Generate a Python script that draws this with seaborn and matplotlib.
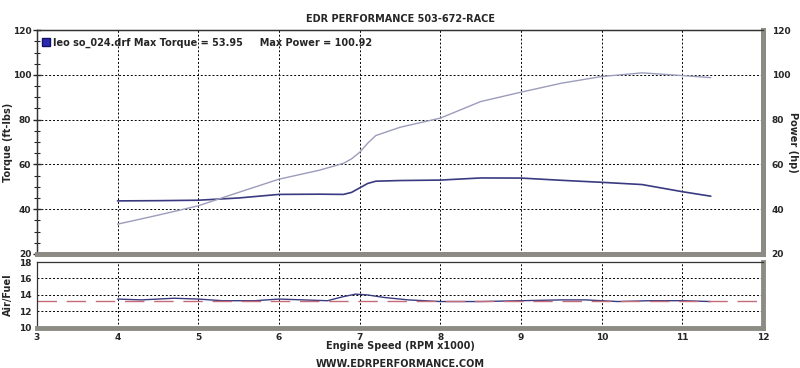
import matplotlib
matplotlib.use("Agg")
import matplotlib.pyplot as plt
import pandas as pd
import seaborn as sns
from matplotlib.ticker import MultipleLocator

# dyno run
rpm = [4.0, 4.5, 5.0, 5.5, 6.0, 6.5, 6.8, 6.9, 7.0, 7.1, 7.2, 7.5,
       8.0, 8.5, 9.0, 9.5, 10.0, 10.5, 11.0, 11.35]
torque = [43.7, 43.8, 44.0, 45.0, 46.6, 46.7, 46.6, 47.5, 49.5, 51.5, 52.5, 52.8,
          53.0, 53.95, 53.9, 52.9, 52.0, 51.0, 47.8, 45.8]
power = [33.3, 37.3, 41.5, 47.5, 53.4, 57.4, 60.5, 62.5, 65.4, 69.5, 72.9, 76.6,
         80.7, 88.1, 92.3, 96.3, 99.3, 100.92, 99.7, 98.8]

rpm_afr = [4.0, 4.3, 4.7, 5.0, 5.3, 5.7, 6.0, 6.3, 6.6, 6.8, 6.95, 7.1,
           7.3, 7.6, 8.0, 8.5, 9.0, 9.5, 9.8, 10.0, 10.2, 10.6, 11.0, 11.35]
afr = [13.5, 13.4, 13.6, 13.5, 13.3, 13.3, 13.5, 13.4, 13.3, 13.8, 14.1, 14.0,
       13.7, 13.4, 13.2, 13.2, 13.3, 13.4, 13.4, 13.3, 13.2, 13.3, 13.3, 13.2]
afr_target = 13.3

run_name = "leo so_024.drf"

df = pd.DataFrame({"rpm": rpm, "torque": torque, "power": power})
df_afr = pd.DataFrame({"rpm": rpm_afr, "afr": afr})

sns.set_style("white")
plt.rcParams["font.family"] = ["DejaVu Sans"]
plt.rcParams["font.weight"] = "bold"

TORQUE_C = "#3a3a80"
POWER_C = "#9c9cbc"
FRAME_C = "#8c8c84"
TICK_FS = 6.5
LABEL_FS = 7

fig = plt.figure(figsize=(8, 3.68), dpi=100)
ax = fig.add_axes([0.046, 0.31, 0.908, 0.608])
ax2 = ax.twinx()
axb = fig.add_axes([0.046, 0.109, 0.908, 0.179])

sns.lineplot(data=df, x="rpm", y="torque", ax=ax, color=TORQUE_C, lw=1.2)
sns.lineplot(data=df, x="rpm", y="power", ax=ax2, color=POWER_C, lw=1.0)
sns.lineplot(data=df_afr, x="rpm", y="afr", ax=axb, color=TORQUE_C, lw=1.0)
axb.axhline(afr_target, color="#c46a78", lw=1.0, dashes=(14, 7))

for a in (ax, ax2):
    a.set_ylim(20, 120)
    a.yaxis.set_major_locator(MultipleLocator(20))
    a.yaxis.set_minor_locator(MultipleLocator(5))
ax.set_xlim(3, 12)
axb.set_xlim(3, 12)
axb.set_ylim(10, 18)
axb.yaxis.set_major_locator(MultipleLocator(2))
axb.yaxis.set_minor_locator(MultipleLocator(0.5))
for a in (ax, axb):
    a.xaxis.set_major_locator(MultipleLocator(1))
    a.xaxis.set_minor_locator(MultipleLocator(0.25))
    a.grid(True, which="major", color="black", ls=(0, (2, 2)), lw=0.7)

ax.tick_params(axis="x", which="both", bottom=False, labelbottom=False)
ax.tick_params(axis="y", which="major", direction="inout", length=6, width=1,
               labelsize=TICK_FS, pad=1)
ax.tick_params(axis="y", which="minor", direction="inout", length=5, width=0.8)
ax2.tick_params(axis="y", which="major", length=0, labelsize=TICK_FS, pad=6)
ax2.tick_params(axis="y", which="minor", length=0)
axb.tick_params(axis="both", which="major", direction="inout", length=6, width=1,
                labelsize=TICK_FS, pad=1)
axb.tick_params(axis="both", which="minor", direction="inout", length=5, width=0.8)

for a in (ax, ax2, axb):
    a.set_xlabel("")
    a.set_ylabel("")
    for s in ("top", "left"):
        a.spines[s].set_color("#333333")
        a.spines[s].set_linewidth(0.9)
    for s in ("bottom", "right"):
        a.spines[s].set_color(FRAME_C)
        a.spines[s].set_linewidth(3.5)

ax.set_ylabel("Torque (ft-lbs)", fontsize=LABEL_FS, fontweight="bold")
ax.yaxis.set_label_coords(-0.033, 0.5)
ax2.set_ylabel("Power (hp)", fontsize=LABEL_FS, fontweight="bold", rotation=270,
               va="center")
ax2.yaxis.set_label_coords(1.041, 0.5)
axb.set_ylabel("Air/Fuel", fontsize=LABEL_FS, fontweight="bold")
axb.yaxis.set_label_coords(-0.033, 0.5)
axb.set_xlabel("Engine Speed (RPM x1000)", fontsize=LABEL_FS, fontweight="bold")
axb.xaxis.set_label_coords(0.5, -0.2)

# legend line
ax.plot([0.012], [0.945], marker="s", ms=6, color="#2a2ab0", mec="#111166",
        transform=ax.transAxes, clip_on=False)
ax.text(0.022, 0.945,
        f"{run_name} Max Torque = {max(torque):.2f}     Max Power = {max(power):.2f}",
        transform=ax.transAxes, fontsize=LABEL_FS, fontweight="bold", va="center")

fig.text(0.5, 0.948, "EDR PERFORMANCE 503-672-RACE", ha="center", va="center",
         fontsize=LABEL_FS, fontweight="bold")
fig.text(0.5, 0.011, "WWW.EDRPERFORMANCE.COM", ha="center", va="center",
         fontsize=LABEL_FS, fontweight="bold")

fig.savefig("out.png", dpi=100)
plt.close(fig)
